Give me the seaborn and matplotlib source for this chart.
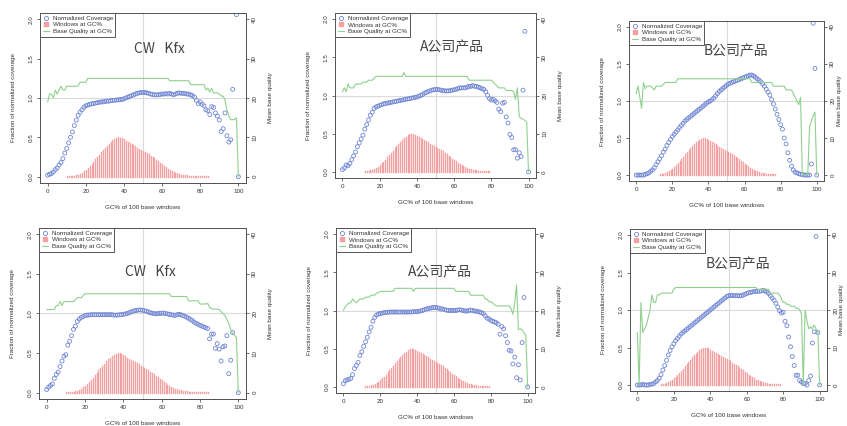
import numpy as np
import matplotlib
matplotlib.use("Agg")
import matplotlib.pyplot as plt
import seaborn as sns
from matplotlib.lines import Line2D

nan = np.nan

# GC% of 100 base windows
gc = list(range(101))

# fraction of windows at each GC% (same genome in every panel)
windows = [0.000, 0.000, 0.000, 0.000, 0.000, 0.000, 0.001, 0.001, 0.001, 0.002,
           0.003, 0.004, 0.006, 0.009, 0.013, 0.019, 0.027, 0.038, 0.052, 0.068,
           0.088, 0.110, 0.135, 0.162, 0.190, 0.220, 0.250, 0.280, 0.310, 0.340,
           0.368, 0.395, 0.420, 0.443, 0.463, 0.480, 0.493, 0.500, 0.497, 0.487,
           0.473, 0.458, 0.443, 0.428, 0.413, 0.399, 0.385, 0.371, 0.357, 0.343,
           0.330, 0.315, 0.300, 0.284, 0.267, 0.250, 0.232, 0.213, 0.194, 0.175,
           0.156, 0.137, 0.119, 0.102, 0.087, 0.073, 0.061, 0.050, 0.041, 0.034,
           0.028, 0.023, 0.019, 0.016, 0.013, 0.011, 0.009, 0.008, 0.007, 0.006,
           0.005, 0.004, 0.004, 0.003, 0.003, 0.002, 0.002, 0.002, 0.001, 0.001,
           0.001, 0.001, 0.001, 0.000, 0.000, 0.000, 0.000, 0.000, 0.000, 0.000,
           0.000]

# normalized coverage, one list per panel
cov_cw_top = [0.02, 0.03, 0.04, 0.06, 0.09, 0.11, 0.15, 0.18, 0.23, 0.30,
              0.36, 0.43, 0.50, 0.57, 0.65, 0.72, 0.78, 0.82, 0.85, 0.88,
              0.90, 0.91, 0.92, 0.925, 0.93, 0.935, 0.94, 0.945, 0.95, 0.95,
              0.955, 0.96, 0.96, 0.965, 0.97, 0.97, 0.975, 0.975, 0.98, 0.98,
              0.99, 1.00, 1.01, 1.02, 1.03, 1.04, 1.05, 1.06, 1.065, 1.07,
              1.07, 1.07, 1.065, 1.06, 1.05, 1.045, 1.04, 1.04, 1.04, 1.045,
              1.05, 1.05, 1.055, 1.05, 1.06, 1.05, 1.04, 1.05, 1.06, 1.065,
              1.06, 1.06, 1.055, 1.05, 1.05, 1.04, 1.03, 1.01, 0.97, 0.93,
              0.95, 0.92, 0.90, 0.85, 0.84, 0.79, 0.89, 0.88, 0.81, 0.77,
              0.72, 0.575, 0.61, 0.81, 0.52, 0.44, 0.47, 1.11, nan, 2.06,
              0.0]
cov_a_top = [0.03, 0.05, 0.09, 0.08, 0.11, 0.16, 0.21, 0.26, 0.33, 0.38,
             0.43, 0.48, 0.56, 0.62, 0.68, 0.74, 0.78, 0.83, 0.85, 0.86,
             0.87, 0.88, 0.89, 0.895, 0.90, 0.905, 0.91, 0.915, 0.92, 0.925,
             0.93, 0.935, 0.94, 0.945, 0.95, 0.955, 0.96, 0.965, 0.97, 0.975,
             0.98, 0.99, 1.00, 1.01, 1.03, 1.04, 1.05, 1.06, 1.07, 1.075,
             1.08, 1.08, 1.075, 1.07, 1.065, 1.06, 1.06, 1.06, 1.065, 1.07,
             1.075, 1.08, 1.09, 1.10, 1.10, 1.10, 1.10, 1.11, 1.12, 1.12,
             1.13, 1.12, 1.12, 1.11, 1.10, 1.09, 1.08, 1.05, 1.00, 0.96,
             0.94, 0.95, 0.93, 0.91, 0.82, 0.79, 0.90, 0.91, 0.72, 0.64,
             0.49, 0.45, 0.29, 0.29, 0.18, 0.25, 0.20, 1.07, 1.84, nan,
             0.0]
cov_b_top = [0.0, 0.0, 0.0, 0.0, 0.0, 0.01, 0.02, 0.03, 0.05, 0.07,
             0.10, 0.14, 0.18, 0.22, 0.26, 0.31, 0.35, 0.40, 0.44, 0.48,
             0.52, 0.55, 0.58, 0.61, 0.64, 0.67, 0.70, 0.73, 0.75, 0.77,
             0.79, 0.81, 0.83, 0.85, 0.87, 0.89, 0.91, 0.93, 0.95, 0.97,
             0.99, 1.00, 1.02, 1.04, 1.07, 1.10, 1.13, 1.15, 1.17, 1.19,
             1.21, 1.23, 1.24, 1.25, 1.26, 1.27, 1.28, 1.29, 1.30, 1.31,
             1.32, 1.33, 1.34, 1.35, 1.35, 1.34, 1.32, 1.30, 1.28, 1.26,
             1.23, 1.20, 1.16, 1.12, 1.08, 1.02, 0.96, 0.89, 0.82, 0.75,
             0.68, 0.62, 0.50, 0.42, 0.30, 0.20, 0.12, 0.07, 0.04, 0.03,
             0.02, 0.01, 0.01, 0.0, 0.0, 0.0, 0.0, 0.15, 2.05, 1.44,
             0.0]
cov_cw_bot = [0.04, 0.07, 0.09, 0.11, 0.18, 0.23, 0.26, 0.33, 0.40, 0.46,
              0.48, 0.60, 0.65, 0.72, 0.80, 0.84, 0.90, 0.93, 0.95, 0.96,
              0.975, 0.98, 0.98, 0.985, 0.985, 0.985, 0.985, 0.985, 0.985, 0.985,
              0.985, 0.985, 0.985, 0.985, 0.985, 0.98, 0.98, 0.98, 0.985, 0.985,
              0.99, 0.995, 1.00, 1.01, 1.02, 1.03, 1.035, 1.04, 1.045, 1.045,
              1.04, 1.035, 1.03, 1.02, 1.01, 1.005, 1.00, 0.995, 1.00, 1.00,
              1.005, 1.005, 1.00, 0.995, 0.99, 0.985, 0.98, 0.975, 0.985, 0.99,
              0.985, 0.975, 0.965, 0.955, 0.94, 0.925, 0.91, 0.89, 0.875, 0.865,
              0.85, 0.84, 0.83, 0.82, 0.81, 0.68, 0.74, 0.74, 0.56, 0.62,
              0.55, 0.40, 0.58, 0.59, 0.72, 0.24, 0.41, 0.76, nan, nan,
              0.0]
cov_a_bot = [0.04, 0.08, 0.09, 0.10, 0.11, 0.16, 0.24, 0.28, 0.32, 0.41,
             0.46, 0.53, 0.59, 0.65, 0.72, 0.78, 0.86, 0.91, 0.94, 0.955,
             0.96, 0.965, 0.97, 0.975, 0.975, 0.98, 0.98, 0.98, 0.98, 0.98,
             0.98, 0.98, 0.98, 0.98, 0.98, 0.98, 0.98, 0.98, 0.985, 0.985,
             0.985, 0.99, 0.995, 1.00, 1.01, 1.02, 1.025, 1.03, 1.035, 1.04,
             1.04, 1.035, 1.03, 1.02, 1.02, 1.01, 1.005, 1.00, 1.00, 1.00,
             1.00, 1.00, 1.005, 1.01, 1.005, 1.00, 0.995, 0.99, 1.00, 1.005,
             1.00, 0.995, 0.99, 0.985, 0.98, 0.97, 0.96, 0.93, 0.90, 0.89,
             0.87, 0.86, 0.85, 0.84, 0.82, 0.69, 0.79, 0.76, 0.67, 0.58,
             0.48, 0.47, 0.30, 0.39, 0.12, 0.29, 0.09, 0.58, 1.17, nan,
             0.0]
cov_b_bot = [0.0, 0.0, 0.0, 0.01, 0.0, 0.0, 0.0, 0.01, 0.01, 0.02,
             0.04, 0.06, 0.09, 0.14, 0.20, 0.26, 0.33, 0.40, 0.46, 0.51,
             0.55, 0.59, 0.62, 0.65, 0.68, 0.70, 0.72, 0.74, 0.76, 0.78,
             0.80, 0.82, 0.84, 0.86, 0.88, 0.90, 0.92, 0.94, 0.96, 0.98,
             1.00, 1.02, 1.04, 1.06, 1.08, 1.10, 1.12, 1.14, 1.16, 1.18,
             1.19, 1.195, 1.195, 1.19, 1.19, 1.19, 1.19, 1.19, 1.20, 1.21,
             1.22, 1.23, 1.235, 1.24, 1.245, 1.25, 1.25, 1.25, 1.255, 1.26,
             1.255, 1.24, 1.22, 1.19, 1.16, 1.13, 1.09, 1.04, 0.99, 0.96,
             0.97, 0.85, 0.79, 0.64, 0.51, 0.38, 0.26, 0.13, 0.13, 0.06,
             0.04, 0.02, 0.02, 0.0, 0.06, 0.12, 0.56, 0.71, 1.98, 0.70,
             0.0]

# mean base quality, one list per panel
qual_cw_top = [19, 21, 21, 20, 22, 21, 22, 23, 22, 22,
               23, 23, 23, 23, 23, 23, 23, 24, 24, 24,
               24, 25, 25, 25, 25, 25, 25, 25, 25, 25,
               25, 25, 25, 25, 25, 25, 25, 25, 25, 25,
               25, 25, 25, 25, 25, 25, 25, 25, 25, 25,
               25, 25, 25, 25, 25, 25, 25, 25, 25, 25,
               25, 25, 25, 25, 24.4, 24.4, 24.4, 24.4, 24.4, 24.4,
               24.4, 24.4, 24.4, 24.4, 24.4, 23.4, 23.4, 23.4, 23.4, 23.4,
               23.4, 23.4, 23.4, 22, 22.5, 21.5, 22.5, 21.3, 21.3, 21.3,
               21, 20.5, 20.5, 19.5, 17, 15.5, 14.5, 14.5, 14.5, 15,
               0]
qual_a_top = [21, 22, 21, 23, 22, 22, 22, 23, 23, 23,
              23, 23.5, 23.5, 23.5, 24, 24, 24, 24.5, 25, 25,
              25, 25, 25, 25, 25, 25, 25, 25, 25, 25,
              25, 25, 25, 26, 25, 25, 25, 25, 25, 25,
              25, 25, 25, 25, 25, 25, 25, 25, 25, 25,
              25, 25, 25, 25, 25, 25, 25, 25, 25, 25,
              25, 25, 25, 25, 25, 25, 25, 25, 24, 24,
              24, 24, 24, 24, 24, 24, 24, 24, 24, 24,
              24, 23.5, 23, 22.5, 22, 22, 22, 22, 21.3, 21.3,
              21.3, 21.3, 21, 19, 22, 14.5, 14, 13.8, 13.5, 13,
              0]
qual_b_top = [22, 24, 21, 18, 25, 23.3, 24, 24, 24, 23.5,
              23, 24, 24, 24, 24, 24.5, 25, 25, 25, 25,
              25, 25, 25, 26, 26, 26, 26, 26, 26, 26,
              26, 26, 26, 26, 26, 26, 26, 26, 26, 26,
              26, 26, 26, 26, 26, 26, 26, 26, 26, 26,
              26, 26, 26, 26, 26, 26, 26, 26, 26, 26,
              26, 26, 26, 26, 25, 25, 25, 25, 25, 25,
              25, 25, 25, 25, 25, 25, 24, 24, 24, 24,
              24, 24, 24, 23, 23, 23, 23, 22, 21, 20,
              19, 21, 0, 0, 0, 0, 13, 14.5, 16, 17,
              0]
qual_cw_bot = [21, 21, 21, 21, 21, 22, 22, 23, 22, 23,
               23, 23, 23, 23, 23, 23.5, 24, 24, 24, 24.5,
               25, 25, 25, 25, 25, 25, 25, 25, 25, 25,
               25, 25, 25, 25, 25, 25, 25, 25, 25, 25,
               25, 25, 25, 25, 25, 25, 25, 25, 25, 25,
               25, 25, 25, 25, 25, 25, 25, 25, 25, 25,
               25, 25, 25, 25, 25, 24.3, 24.3, 24.3, 24.3, 24.3,
               24.3, 24.3, 24.3, 24.3, 23.2, 23.2, 23.2, 23.2, 23.2, 23.2,
               22.4, 22.4, 22.4, 22.4, 22.6, 21.5, 21.3, 21.1, 21.1, 21.1,
               21, 20.5, 20, 19.5, 18.5, 17.5, 16, 15, 14.5, 14,
               0]
qual_a_bot = [20, 21, 21.5, 22, 22, 23, 22.5, 22, 22.5, 23,
              23, 23, 23.5, 23.5, 23.5, 24, 24, 24, 24.6, 24.6,
              25, 25, 25, 25, 25, 25, 25, 25, 25.8, 25.8,
              25.8, 25.8, 25.8, 25.8, 25.8, 25.8, 25.8, 25.8, 25, 25.8,
              25.8, 25.8, 25.8, 25.8, 25.8, 25.8, 25.8, 25.8, 25.8, 25.8,
              25.8, 25.8, 25.8, 25.8, 25.8, 25.8, 25.8, 25.8, 25.8, 25.8,
              25.8, 25, 25, 25, 25, 25, 25, 25, 25, 24,
              24, 24, 24, 24, 24, 24, 24, 23, 23, 22.3,
              22.3, 22, 21.5, 21.2, 21.2, 21.2, 21.2, 21.2, 21.2, 21.2,
              21.2, 20.5, 19, 22, 26.7, 15, 15.2, 15, 14.2, 13.5,
              0]
qual_b_bot = [14, 0, 22, 14, 15, 16, 18, 20, 24, 22,
              22, 24, 24, 24.5, 24.5, 24.5, 24.5, 24.5, 24.5, 24.5,
              25.5, 26, 26, 26, 26, 26, 26, 26, 26, 26,
              26, 26, 26, 26, 26, 26, 26, 26, 26, 26,
              26, 26, 26, 26, 26, 26, 26, 26, 26, 26,
              26, 26, 26, 26, 26, 26, 26, 26, 26, 26,
              26, 26, 26, 26, 26, 26, 25.5, 25.5, 25.5, 25.5,
              25.5, 25.5, 25.5, 24.5, 24.5, 24.5, 24.5, 24.5, 24, 23,
              22, 22, 21.5, 21.5, 21, 21, 21, 20.5, 20.5, 20,
              19, 0, 20, 17, 15, 15.5, 15, 16, 15, 14,
              0]

titles = ["CW   Kfx", "A公司产品", "B公司产品", "CW   Kfx", "A公司产品", "B公司产品"]
coverages = [cov_cw_top, cov_a_top, cov_b_top, cov_cw_bot, cov_a_bot, cov_b_bot]
qualities = [qual_cw_top, qual_a_top, qual_b_top, qual_cw_bot, qual_a_bot, qual_b_bot]

# plot boxes in pixels (left, top, right, bottom) and title position in axes coords
boxes = [(40, 13, 246, 183), (335, 13, 536, 178), (629, 21, 824, 181),
         (39, 228, 246, 399), (336, 228, 535, 393), (630, 229, 827, 391)]
title_xy = [(0.58, 0.79), (0.58, 0.79), (0.55, 0.81),
            (0.54, 0.74), (0.52, 0.73), (0.55, 0.78)]
# right label padding (the right column is squeezed against the edge)
right_pad = [8, 8, 1.5, 8, 8, 0.5]

BLUE = "#7086d4"
RED = "#f4a0a0"
GREEN = "#8fd08f"
GRID = "#dadada"
FRAME = "#555555"
TXT = "#333333"
W, H = 847, 426

sns.set_style("ticks")
plt.rcParams['font.family'] = ['Liberation Sans', 'Noto Sans CJK SC', 'DejaVu Sans']

fig = plt.figure(figsize=(W / 100, H / 100), dpi=100)


def draw_panel(box, cov, qual, title, txy, rpad):
    l, t, r, b = box
    ax = fig.add_axes([l / W, 1 - b / H, (r - l) / W, (b - t) / H])
    ax.axhline(1.0, color=GRID, lw=0.8, zorder=0)
    ax.axvline(50, color=GRID, lw=0.8, zorder=0)
    # windows drawn as thin vertical strokes (R type="h")
    bars = ax.vlines(gc, 0, windows, color=RED, lw=0.95, zorder=1)
    bars.set_capstyle('projecting')
    sns.scatterplot(x=gc, y=cov, ax=ax, marker='o', s=8, color=BLUE,
                    facecolor='none', edgecolor=BLUE, linewidth=0.6,
                    legend=False, zorder=3)
    ax.set_xlim(-4, 104)
    ax.set_ylim(-0.08, 2.08)
    ax.set_xticks([0, 20, 40, 60, 80, 100])
    ax.set_yticks([0, 0.5, 1.0, 1.5, 2.0])
    ax.set_yticklabels(['0.0', '0.5', '1.0', '1.5', '2.0'], rotation=90, va='center')
    ax.tick_params(direction='out', length=2.5, width=0.6, labelsize=4.5,
                   colors=FRAME, labelcolor=TXT, pad=2, bottom=True, left=True)
    ax.set_xlabel('GC% of 100 base windows', fontsize=4.5, color=TXT, labelpad=8)
    ax.set_ylabel('Fraction of normalized coverage', fontsize=4.5, color=TXT, labelpad=9)

    ax2 = ax.twinx()
    sns.lineplot(x=gc, y=qual, ax=ax2, color=GREEN, lw=0.8, estimator=None,
                 legend=False)
    ax2.set_ylim(-1.6, 41.6)
    ax2.set_yticks([0, 10, 20, 30, 40])
    ax2.set_yticklabels(['0', '10', '20', '30', '40'], rotation=90, va='center')
    ax2.tick_params(direction='out', length=2.5, width=0.6, labelsize=4.5,
                    colors=FRAME, labelcolor=TXT, pad=2, right=True)
    ax2.set_ylabel('Mean base quality', fontsize=4.5, color=TXT, labelpad=rpad)

    for a in (ax, ax2):
        for s in a.spines.values():
            s.set_visible(True)
            s.set_color(FRAME)
            s.set_linewidth(0.7)

    handles = [
        Line2D([], [], marker='o', ls='none', mfc='none', mec=BLUE, ms=3, mew=0.6,
               label='Normalized Coverage'),
        Line2D([], [], marker='s', ls='none', mfc=RED, mec=RED, ms=2.5,
               label='Windows at GC%'),
        Line2D([], [], color=GREEN, lw=0.8, label='Base Quality at GC%'),
    ]
    leg = ax2.legend(handles=handles, loc='upper left', bbox_to_anchor=(0, 1),
                     borderaxespad=0, fontsize=4.5, fancybox=False, framealpha=1,
                     edgecolor=FRAME, handlelength=1.0, handletextpad=0.6,
                     borderpad=0.4, labelspacing=0.2)
    leg.get_frame().set_linewidth(0.7)
    for txt in leg.get_texts():
        txt.set_color(TXT)

    ax2.text(txy[0], txy[1], title, transform=ax.transAxes, ha='center', va='center',
             fontsize=10, color='#444444',
             family=['Noto Sans CJK SC', 'DejaVu Sans'])


for box, cov, qual, title, txy, rpad in zip(boxes, coverages, qualities, titles,
                                             title_xy, right_pad):
    draw_panel(box, cov, qual, title, txy, rpad)

fig.savefig('out.png', dpi=100, facecolor='white')
